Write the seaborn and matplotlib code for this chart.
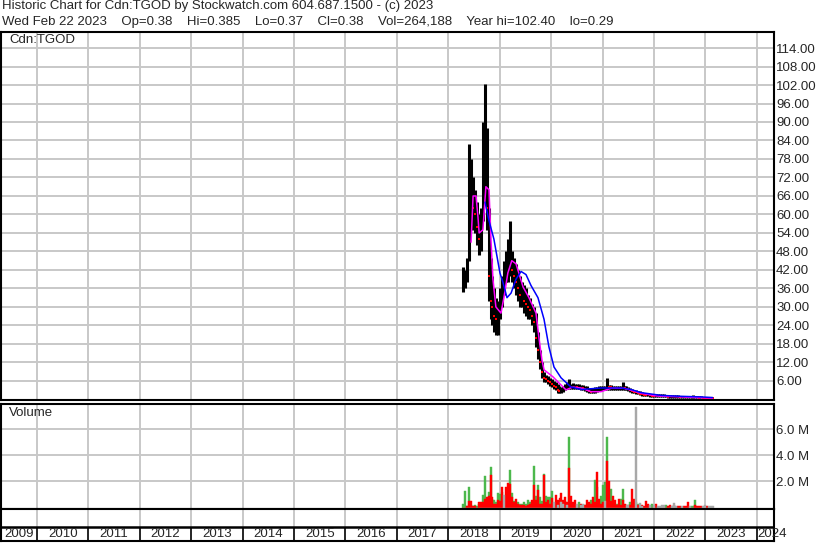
import pandas as pd
import numpy as np
import matplotlib
matplotlib.use("Agg")
import matplotlib.pyplot as plt
import seaborn as sns

sns.set_style("white")
plt.rcParams['font.family'] = ['Liberation Sans', 'DejaVu Sans']

# header lines
title_1 = "Historic Chart for Cdn:TGOD by Stockwatch.com 604.687.1500 - (c) 2023"
title_2 = ("Wed Feb 22 2023    Op=0.38    Hi=0.385    Lo=0.37    Cl=0.38    "
           "Vol=264,188    Year hi=102.40    lo=0.29")

dates = pd.date_range("2018-04-15", periods=128, freq="14D")

high = [43, 42, 46, 83, 78, 72, 68, 64, 60, 62,
        90, 102.4, 88, 62, 46, 40, 36, 33, 32, 36,
        40, 45, 48, 52, 58, 48, 46, 44, 42, 40,
        38, 37, 36, 34, 33, 31, 30, 28, 22, 16,
        12, 9, 8, 7.5, 7, 6.5, 6, 5.5, 5, 4.2,
        4, 4.5, 5, 5.5, 6.6, 5, 5.2, 5, 5, 5,
        4.8, 4.6, 4.4, 4.2, 3.8, 3.6, 3.6, 4, 4, 4.2,
        4.2, 4.4, 4.5, 6.8, 4.8, 4.6, 4.5, 4.4, 4.3, 4.3,
        4.5, 5.6, 4.4, 4.2, 4, 3.8, 3.5, 3.2, 3, 2.8,
        2.6, 2.4, 2.2, 2, 2, 1.8, 1.8, 1.7, 1.6, 1.6,
        1.6, 1.6, 1.8, 1.5, 1.4, 1.4, 1.4, 1.4, 1.5, 1.3,
        1.2, 1.2, 1.2, 1.1, 1.1, 1.1, 1.1, 1.3, 1.2, 1.1,
        1.1, 1.0, 0.9, 0.9, 0.8, 0.7, 0.6, 0.385]
low = [35, 36, 38, 45, 56, 55, 54, 50, 47, 48,
       58, 64, 55, 32, 26, 24, 22, 21, 21, 26,
       30, 34, 38, 38, 40, 38, 36, 34, 32, 30,
       30, 28, 27, 26, 26, 24, 22, 17, 13, 10,
       7, 5.5, 5.5, 5, 4.5, 4, 3.5, 3, 2.2, 2,
       2, 2.3, 3, 3.5, 3.5, 3.5, 3.5, 3.5, 3.4, 3.4,
       3.2, 3, 2.8, 2.4, 2, 2, 2, 2.2, 2.4, 2.6,
       2.8, 3, 3, 3.2, 3.2, 3.2, 3.2, 3.1, 3, 3,
       3, 3.2, 3, 3, 2.8, 2.5, 2.2, 2, 1.8, 1.6,
       1.5, 1.2, 1.1, 1, 1, 0.9, 0.9, 0.8, 0.8, 0.8,
       0.7, 0.7, 0.7, 0.7, 0.6, 0.6, 0.6, 0.6, 0.6, 0.6,
       0.5, 0.5, 0.5, 0.5, 0.5, 0.5, 0.45, 0.45, 0.4, 0.4,
       0.4, 0.4, 0.4, 0.35, 0.35, 0.35, 0.35, 0.37]
close = [38, 40, 44, 62, 66, 62, 60, 56, 52, 55,
         78, 82, 62, 40, 32, 30, 27, 26, 28, 32,
         36, 40, 44, 45, 46, 42, 40, 38, 36, 34,
         34, 32, 31, 30, 29, 27, 25, 20, 16, 12,
         9, 7, 6.5, 6, 5.5, 5, 4.5, 4, 3, 2.8,
         2.8, 3.2, 4, 4.2, 4.5, 4, 4.2, 4.2, 4, 4,
         4, 3.8, 3.5, 3, 2.6, 2.5, 2.6, 2.8, 3, 3.2,
         3.3, 3.5, 3.6, 4.2, 4, 3.9, 3.8, 3.7, 3.6, 3.6,
         3.7, 4, 3.6, 3.5, 3.3, 3, 2.8, 2.5, 2.3, 2.1,
         1.9, 1.7, 1.5, 1.4, 1.4, 1.3, 1.2, 1.1, 1.1, 1.1,
         1.0, 1.0, 1.0, 1.0, 0.9, 0.9, 0.9, 0.9, 0.9, 0.9,
         0.8, 0.8, 0.8, 0.7, 0.7, 0.7, 0.7, 0.7, 0.7, 0.65,
         0.6, 0.6, 0.55, 0.5, 0.45, 0.42, 0.4, 0.38]

# volume in millions: up days, down days, unchanged days
vol_up = [0.3, 1.26, 0.15, 1.56, 0.2, 0.15, 0.2, 0.15, 0.25, 0.3,
          1.0, 2.4, 0.5, 1.2, 3.1, 0.67, 0.6, 0.4, 1.1, 1.05,
          1.2, 0.8, 0.8, 0.6, 2.85, 1.1, 0.5, 0.3, 0.4, 0.3,
          0.3, 0.4, 0.3, 0.55, 0.45, 0.4, 3.15, 0.9, 1.7, 0.85,
          0.5, 2.6, 0.9, 0.8, 0.8, 1.3, 0, 0.2, 0, 0,
          0, 0.3, 0.5, 0, 5.4, 0, 0.2, 0, 0, 0.4,
          0, 0.2, 0.2, 0, 0.2, 0.6, 0, 2.1, 1.56, 0.3,
          0.9, 1.7, 1.95, 5.4, 0.4, 1.4, 0, 0.2, 0.3, 0,
          0.67, 1.45, 0.2, 0, 0.2, 0.4, 0.4, 0.2, 0.4, 0.3,
          0, 0, 0, 0, 0, 0, 0.28, 0, 0, 0,
          0, 0, 0, 0.2, 0, 0, 0, 0, 0, 0,
          0, 0, 0, 0, 0, 0, 0.1, 0.15, 0.55, 0,
          0, 0, 0, 0, 0, 0, 0, 0]
vol_down = [0, 0, 0.1, 0.5, 0.5, 0.15, 0.1, 0, 0.4, 0.4,
            0.4, 0.67, 0.85, 0.9, 2.46, 0.8, 0.3, 0.3, 0.6, 0.5,
            1.56, 0.5, 1.56, 1.87, 1.8, 0.8, 0.4, 0.67, 0.3, 0.2,
            0.2, 0.2, 0.15, 0.2, 0.3, 0.6, 1.7, 0.6, 1.35, 0.3,
            0.3, 2.5, 0.4, 0.55, 0.3, 0.75, 0.3, 1.0, 0.55, 0.75,
            1.1, 0.6, 0.8, 0.4, 3.0, 0.9, 0.4, 0.6, 0.2, 0,
            0.3, 0, 0.2, 0.55, 0.4, 0.3, 0.85, 0.4, 2.7, 0.67,
            0.3, 0.4, 0, 3.56, 2.0, 0.5, 0.9, 0.55, 0.2, 0.67,
            0.2, 0.55, 0.3, 0.2, 0, 0.2, 1.45, 0.67, 0, 0.2,
            0, 0.2, 0.15, 0.5, 0.28, 0, 0, 0, 0.25, 0,
            0, 0, 0, 0, 0.1, 0.2, 0, 0.2, 0, 0.1,
            0.1, 0, 0.1, 0.15, 0.4, 0, 0, 0, 0.2, 0.1,
            0.1, 0.1, 0, 0, 0.15, 0, 0, 0]
vol_flat = [0, 0, 0, 0, 0, 0, 0, 0, 0, 0,
            0, 0, 0, 0, 0, 0, 0, 0, 0, 0,
            0, 1.0, 0, 0, 0, 0, 0, 0, 0, 0,
            0, 0, 0, 0, 0, 0, 0, 0, 0, 0,
            0, 0, 0, 0, 0, 0, 0.4, 0, 0.2, 0,
            0.4, 0.3, 0, 0.2, 0, 0, 0, 0, 0.3, 0,
            0.2, 0.3, 0, 0, 0, 0, 0, 0, 0, 0,
            0, 0, 0.5, 0, 0, 0, 0, 0, 0, 0,
            0, 0, 0, 0.2, 0.2, 0, 0, 0, 7.7, 0,
            0.33, 0.1, 0, 0, 0, 0.2, 0, 0.2, 0, 0.1,
            0.15, 0.2, 0.23, 0, 0, 0, 0.15, 0.33, 0.15, 0,
            0, 0.1, 0, 0, 0, 0.15, 0, 0, 0, 0,
            0, 0, 0.1, 0.23, 0, 0.1, 0.15, 0.1]

# moving averages
ma_short_dates = pd.to_datetime([
    "2018-06-12", "2018-06-26", "2018-07-17", "2018-07-31", "2018-08-08", "2018-09-04",
    "2018-09-25", "2018-10-17", "2018-10-31", "2018-11-14", "2018-12-05", "2019-01-10",
    "2019-01-31", "2019-02-28", "2019-03-28", "2019-04-27", "2019-06-16", "2019-07-28",
    "2019-09-16", "2019-10-07", "2019-10-28", "2019-11-12", "2020-01-15", "2020-02-27",
    "2020-04-16", "2020-06-05", "2020-08-01", "2020-10-11", "2020-12-21", "2021-03-03",
    "2021-06-03", "2021-07-22", "2021-10-01", "2022-01-22", "2022-07-12", "2023-02-22"])
ma_short = [51, 66, 66, 59, 54, 55,
            69, 68, 52, 39, 30, 28,
            33, 41, 45, 44, 36.5, 33,
            28, 20, 12.8, 9.6, 7.3, 5.3,
            3.1, 4, 3.7, 2.5, 2.5, 3.6,
            3.6, 3, 2, 1.1, 0.8, 0.4]

ma_long_dates = pd.to_datetime([
    "2018-09-19", "2018-10-17", "2018-11-21", "2019-01-03", "2019-01-24", "2019-02-22",
    "2019-03-23", "2019-04-27", "2019-06-02", "2019-07-07", "2019-08-11", "2019-09-30",
    "2019-11-12", "2019-12-17", "2020-01-22", "2020-03-12", "2020-05-22", "2020-08-01",
    "2020-12-21", "2021-05-12", "2021-07-22", "2021-10-01", "2022-02-21", "2022-07-12",
    "2022-12-01", "2023-02-22"])
ma_long = [64, 58, 52, 41, 38, 33,
           34.5, 39, 41.5, 40.5, 37, 33,
           26, 17, 10.5, 7, 4, 3.2,
           3.7, 3.7, 3.2, 2.2, 1.3, 1.0,
           0.8, 0.6]

price_ticks = [6, 12, 18, 24, 30, 36, 42, 48, 54, 60, 66, 72, 78, 84, 90, 96, 102, 108, 114]
vol_ticks = [2, 4, 6]
years = list(range(2009, 2025))

GRID = '#c8c8c8'
FS = 9.5
W, H = 830, 543


def rect(x0, y0, x1, y1):
    return [x0 / W, 1 - y1 / H, (x1 - x0) / W, (y1 - y0) / H]


fig = plt.figure(figsize=(W / 100, H / 100), dpi=100)
fig.patch.set_facecolor('white')

x_left = pd.Timestamp("2009-04-20")
x_right = pd.Timestamp("2024-05-03")
year_starts = [pd.Timestamp(f"{y}-01-01") for y in years[1:]]

ax_p = fig.add_axes(rect(1, 32, 774, 400))
ax_v = fig.add_axes(rect(1, 403.5, 774, 509))
ax_t = fig.add_axes(rect(1, 509, 774, 541))

for ax in (ax_p, ax_v, ax_t):
    ax.set_xlim(x_left, x_right)
    for s in ax.spines.values():
        s.set_color('black')
        s.set_linewidth(1.5)
    ax.set_xticks(year_starts)
    ax.tick_params(axis='x', length=0, labelbottom=False)

# price panel
ax_p.set_ylim(-0.2, 119.2)
ax_p.yaxis.tick_right()
ax_p.set_yticks(price_ticks)
ax_p.set_yticklabels([f"{t:.2f}" for t in price_ticks], fontsize=FS)
ax_p.tick_params(axis='y', length=0, pad=1.5)
ax_p.grid(True, color=GRID, lw=1.4)
ax_p.set_axisbelow(True)

ax_p.vlines(dates, low, high, color='black', lw=2.2, zorder=3)
cl = np.array(close)
down = np.r_[False, cl[1:] < cl[:-1]]
ax_p.scatter(dates[down], cl[down], marker='s', s=4, color='red', lw=0, zorder=4)

sns.lineplot(x=ma_short_dates, y=ma_short, color='#ff00ff', lw=1.1, ax=ax_p, zorder=5)
sns.lineplot(x=ma_long_dates, y=ma_long, color='#0000ff', lw=1.1, ax=ax_p, zorder=6)
ax_p.set_xlabel('')
ax_p.set_ylabel('')

# volume panel
ax_v.set_ylim(-0.1, 7.95)
ax_v.yaxis.tick_right()
ax_v.set_yticks(vol_ticks)
ax_v.set_yticklabels([f"{t:.1f} M" for t in vol_ticks], fontsize=FS)
ax_v.tick_params(axis='y', length=0, pad=1.5)
ax_v.grid(True, color=GRID, lw=1.4)
ax_v.set_axisbelow(True)

bw = pd.Timedelta(days=14)
ax_v.bar(dates, vol_up, width=bw, color='#4cb84c', edgecolor='#4cb84c', lw=0.3, zorder=3)
ax_v.bar(dates, vol_down, width=bw, color='#ff0000', edgecolor='#ff0000', lw=0.3, zorder=4)
ax_v.bar(dates, vol_flat, width=bw, color='#a8a8a8', edgecolor='#a8a8a8', lw=0.3, zorder=5)

# year strip
ax_t.set_ylim(0, 1)
ax_t.set_yticks([])
mid = (541 - 527) / 32
ax_t.vlines(year_starts, mid, 1, color=GRID, lw=1.4)
ax_t.vlines(year_starts, 0, mid, color='black', lw=1.2)
ax_t.axhline(mid, color='black', lw=1.8)
for y in years:
    a = max(pd.Timestamp(f"{y}-01-01"), x_left)
    b = pd.Timestamp(f"{y + 1}-01-01")
    if y == years[-1]:
        ax_t.text(a + pd.Timedelta(days=3), mid / 2, str(y), ha='left', va='center',
                  fontsize=FS, clip_on=False)
    else:
        ax_t.text(a + (b - a) / 2, mid / 2, str(y), ha='center', va='center', fontsize=FS)

# texts
fig.text(2 / W, 1 - 0.5 / H, title_1, ha='left', va='top', fontsize=FS)
fig.text(2 / W, 1 - 15.5 / H, title_2, ha='left', va='top', fontsize=FS)
fig.text(9 / W, 1 - 34 / H, "Cdn:TGOD", ha='left', va='top', fontsize=FS)
fig.text(9 / W, 1 - 407 / H, "Volume", ha='left', va='top', fontsize=FS)

fig.savefig("out.png", dpi=100, facecolor='white')
